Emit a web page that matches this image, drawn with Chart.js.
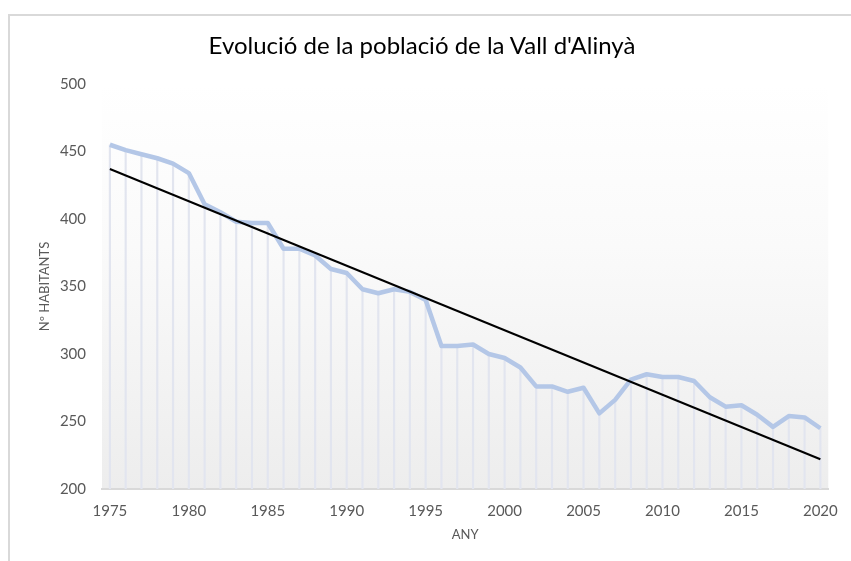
<!DOCTYPE html>
<html>
<head>
<meta charset="utf-8">
<title>Evolució de la població de la Vall d'Alinyà</title>
<script src="https://cdn.jsdelivr.net/npm/chart.js@4.4.1/dist/chart.umd.min.js"></script>
<style>
  html, body { margin: 0; padding: 0; background: #fff; overflow: hidden; }
  #frame { position: absolute; left: 8px; top: 14px; width: 900px; height: 600px; border: 2px solid #d9d9d9; }
  #wrap { position: absolute; left: 0; top: 0; width: 851px; height: 561px; }
  #title { position: absolute; left: 0; width: 844px; top: 31px; text-align: center;
           font: 24px Lato, 'Open Sans', sans-serif; color: #000; line-height: 28px; }
</style>
</head>
<body>
<div id="frame"></div>
<div id="wrap"><canvas id="myChart" width="851" height="561"></canvas></div>
<div id="title">Evolució de la població de la Vall d'Alinyà</div>
<script>
const years = [1975, 1976, 1977, 1978, 1979, 1980, 1981, 1982, 1983, 1984,
               1985, 1986, 1987, 1988, 1989, 1990, 1991, 1992, 1993, 1994,
               1995, 1996, 1997, 1998, 1999, 2000, 2001, 2002, 2003, 2004,
               2005, 2006, 2007, 2008, 2009, 2010, 2011, 2012, 2013, 2014,
               2015, 2016, 2017, 2018, 2019, 2020];
const habitants = [455, 451, 448, 445, 441, 434, 411, 405, 398, 397,
                   397, 378, 378, 373, 363, 360, 348, 345, 348, 346,
                   340, 306, 306, 307, 300, 297, 290, 276, 276, 272,
                   275, 256, 266, 281, 285, 283, 283, 280, 268, 261,
                   262, 255, 246, 254, 253, 245];
// linia de tendencia (llegida del grafic)
const trendYears = [1975, 2020];
const trendValues = [437, 222];
const xTicks = [1975, 1980, 1985, 1990, 1995, 2000, 2005, 2010, 2015, 2020];
const yTicks = [200, 250, 300, 350, 400, 450, 500];

const points = years.map((y, i) => ({ x: y, y: habitants[i] }));
const trend = trendYears.map((y, i) => ({ x: y, y: trendValues[i] }));

const fontFamily = "Lato, 'Open Sans', sans-serif";
const gray = '#595959';

// fons degradat de l'area del grafic
const bgPlugin = {
  id: 'bg',
  beforeDraw(chart) {
    const { ctx, chartArea: a } = chart;
    const g = ctx.createLinearGradient(0, a.top, 0, a.bottom);
    g.addColorStop(0, '#ffffff');
    g.addColorStop(0.4, '#fafafa');
    g.addColorStop(1, '#ededed');
    ctx.save();
    ctx.fillStyle = g;
    ctx.fillRect(a.left, a.top, a.right - a.left, a.bottom - a.top);
    ctx.restore();
  }
};

const ctx = document.getElementById('myChart');

new Chart(ctx, {
  data: {
    datasets: [
      {
        type: 'bar',
        data: points,
        backgroundColor: '#e2e5ef',
        barThickness: 1.5,
        order: 3
      },
      {
        type: 'line',
        data: points,
        borderColor: '#b4c7e7',
        borderWidth: 4.5,
        pointRadius: 0,
        tension: 0,
        borderJoinStyle: 'round',
        order: 2
      },
      {
        type: 'line',
        data: trend,
        borderColor: '#000000',
        borderWidth: 2,
        pointRadius: 0,
        order: 1
      }
    ]
  },
  options: {
    responsive: false,
    animation: false,
    layout: { padding: { left: 0, right: 21, top: 84, bottom: 0 } },
    plugins: {
      legend: { display: false },
      tooltip: { enabled: false },
      title: { display: false }
    },
    scales: {
      x: {
        type: 'linear',
        offset: false,
        min: 1974.5,
        max: 2020.5,
        afterBuildTicks: (scale) => { scale.ticks = xTicks.map(v => ({ value: v })); },
        afterFit: (scale) => { scale.height = 72; },
        grid: { display: false, drawTicks: false, offset: false },
        border: { display: true, color: '#d9d9d9', width: 2 },
        ticks: {
          autoSkip: false,
          maxRotation: 0,
          padding: 13,
          color: gray,
          font: { family: fontFamily, size: 15 },
          callback: (v) => String(v)
        },
        title: {
          display: true,
          text: 'ANY',
          color: gray,
          font: { family: fontFamily, size: 13 },
          padding: { top: 0, bottom: 18 }
        }
      },
      y: {
        min: 200,
        max: 500,
        afterBuildTicks: (scale) => { scale.ticks = yTicks.map(v => ({ value: v })); },
        afterFit: (scale) => { scale.width = 102; },
        grid: { display: false, drawTicks: false },
        border: { display: false },
        ticks: {
          padding: 16,
          color: gray,
          font: { family: fontFamily, size: 15 }
        },
        title: {
          display: true,
          text: 'Nº HABITANTS',
          color: gray,
          font: { family: fontFamily, size: 13 },
          padding: { top: 37, bottom: 0 }
        }
      }
    }
  },
  plugins: [bgPlugin]
});
</script>
</body>
</html>
